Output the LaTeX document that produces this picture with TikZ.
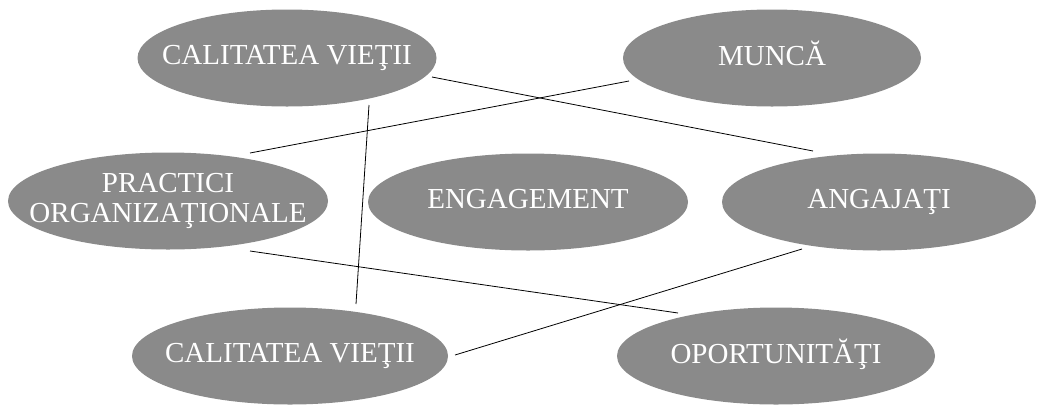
\documentclass[tikz,border=0pt]{standalone}
\usepackage{fontspec}
\setmainfont{Liberation Serif}
\usetikzlibrary{shapes.geometric}
\definecolor{bubblegray}{RGB}{138,138,138}
% text of zero width, so that the ellipse keeps its own size
\newcommand{\bubbletext}[1]{\makebox[0pt][c]{\begin{tabular}{@{}c@{}}#1\end{tabular}}}
\tikzset{
  bubble/.style={ellipse, fill=bubblegray, text=white, inner sep=0pt,
    minimum width=#1, minimum height=97pt,
    font=\fontsize{29}{30}\selectfont},
  bubble/.default=300pt,
  link/.style={black, line width=0.8pt}
}
\begin{document}
\begin{tikzpicture}[x=1pt,y=-1pt]
				\useasboundingbox (0,0) rectangle (1038,405);
				% the six ellipses
				\node[bubble=299pt] (viataSus) at (287,58) {\bubbletext{CALITATEA VIEŢII}};
				\node[bubble=298pt] (munca) at (772,58) {\bubbletext{MUNCĂ}};
				\node[bubble=320pt] (practici) at (168,201) {\bubbletext{PRACTICI\\ORGANIZAŢIONALE}};
				\node[bubble=320pt] (engagement) at (528,202) {\bubbletext{ENGAGEMENT}};
				\node[bubble=314pt] (angajati) at (879,202) {\bubbletext{ANGAJAŢI}};
				\node[bubble=316pt] (viataJos) at (290,356) {\bubbletext{CALITATEA VIEŢII}};
				\node[bubble=318pt] (oportunitati) at (776,356) {\bubbletext{OPORTUNITĂŢI}};
				% free ends of the crossing lines
				\coordinate (a1) at (432,77);   \coordinate (a2) at (813,151);
				\coordinate (b1) at (629,81);   \coordinate (b2) at (250,153);
				\coordinate (c1) at (369,105);  \coordinate (c2) at (356,304);
				\coordinate (d1) at (250,251);  \coordinate (d2) at (678,313);
				\coordinate (e1) at (455,355);  \coordinate (e2) at (802,249);
				\draw[link] (a1) -- (a2);
				\draw[link] (b1) -- (b2);
				\draw[link] (c1) -- (c2);
				\draw[link] (d1) -- (d2);
				\draw[link] (e1) -- (e2);
			\end{tikzpicture}
\end{document}
